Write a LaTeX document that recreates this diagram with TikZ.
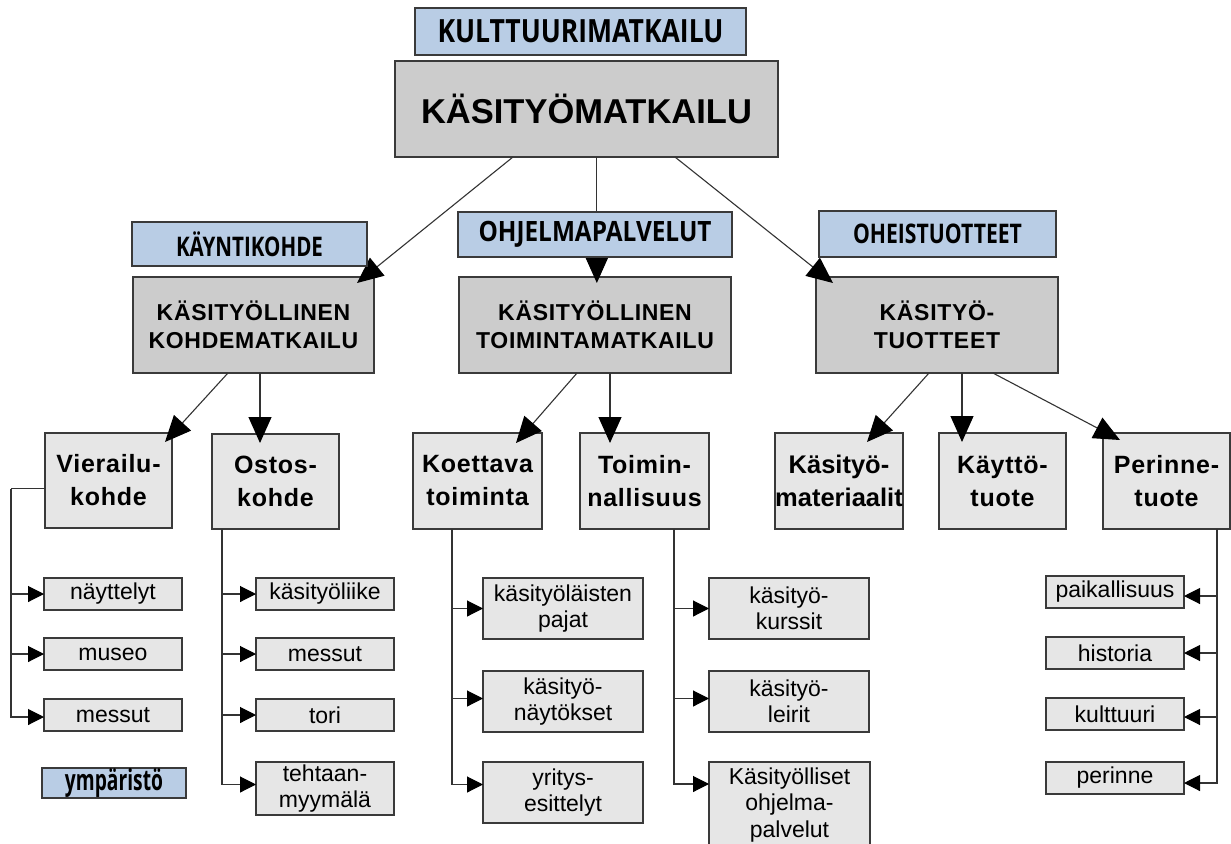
\documentclass[tikz,border=0pt]{standalone}
\usepackage{fontspec}
\usepackage{graphicx}
\setmainfont{Liberation Sans}
\newfontfamily\condfont{Open Sans}
\newfontfamily\spacedfont[LetterSpace=3]{Liberation Sans}
\usetikzlibrary{arrows.meta,calc}
\definecolor{bluebox}{HTML}{B9CDE5}
\definecolor{graydark}{HTML}{CCCCCC}
\definecolor{graylight}{HTML}{E6E6E6}
\definecolor{edgecol}{HTML}{3A3A3A}
\definecolor{linecol}{HTML}{333333}
\newcommand\condlbl[3]{\resizebox{#2}{\height}{\fontsize{#1}{#1}\selectfont\condfont\bfseries #3}}
\tikzset{
  every node/.style={inner sep=0pt, outer sep=0pt},
  bx/.style={draw=edgecol, line width=1.3pt, anchor=north west, align=center},
  lbl/.style={bx, fill=bluebox},
  lvone/.style={bx, fill=graydark, font=\fontsize{34.5pt}{40pt}\selectfont\bfseries},
  lvtwo/.style={bx, fill=graydark, font=\spacedfont\fontsize{23pt}{28pt}\selectfont\bfseries},
  lvthree/.style={bx, fill=graylight, font=\spacedfont\fontsize{25pt}{33pt}\selectfont\bfseries},
  lvthreetight/.style={bx, fill=graylight, font=\fontsize{25.5pt}{33pt}\selectfont\bfseries},
  lvfour/.style={bx, fill=graylight, font=\fontsize{23pt}{26.5pt}\selectfont},
  con/.style={draw=linecol, line width=1.1pt},
  bigarr/.style={con, -{Triangle[length=26pt,width=23pt,fill=black,color=black]}},
  smallarr/.style={con, -{Triangle[length=16pt,width=16pt,fill=black,color=black]}}
}
\begin{document}
\begin{tikzpicture}[x=1pt,y=-1pt]
\clip (0,0) rectangle (1231,843);
\fill[white] (0,0) rectangle (1231,843);

% top
\node[lbl, minimum width=331pt, minimum height=47pt] (kult) at (415,8) {\condlbl{32pt}{286pt}{KULTTUURIMATKAILU}};
\node[lvone, minimum width=383pt, minimum height=96pt] (top) at (395,61) {KÄSITYÖMATKAILU};

% level 2
\node[lvtwo, minimum width=241pt, minimum height=96pt] (k1) at (133,277) {KÄSITYÖLLINEN\\KOHDEMATKAILU};
\node[lvtwo, minimum width=272pt, minimum height=96pt] (k2) at (459,277) {KÄSITYÖLLINEN\\TOIMINTAMATKAILU};
\node[lvtwo, minimum width=242pt, minimum height=96pt] (k3) at (816,277) {KÄSITYÖ-\\TUOTTEET};

% level 3
\node[lvthree, minimum width=127pt, minimum height=95pt] (v) at (45,433) {Vierailu-\\kohde};
\node[lvthree, minimum width=127pt, minimum height=95pt] (o) at (212,434) {Ostos-\\kohde};
\node[lvthree, minimum width=129pt, minimum height=96pt] (ko) at (413,433) {Koettava\\toiminta};
\node[lvthree, minimum width=129pt, minimum height=96pt] (to) at (580,433) {Toimin-\\nallisuus};
\node[lvthreetight, minimum width=128pt, minimum height=96pt] (ma) at (775,433) {Käsityö-\\materiaalit};
\node[lvthree, minimum width=127pt, minimum height=96pt] (ky) at (939,433) {Käyttö-\\tuote};
\node[lvthree, minimum width=127pt, minimum height=96pt] (pe) at (1103,433) {Perinne-\\tuote};

% level 4
\node[lvfour, minimum width=138pt, minimum height=32pt] (n1) at (44,578) {näyttelyt};
\node[lvfour, minimum width=138pt, minimum height=32pt] (n2) at (44,638) {museo};
\node[lvfour, minimum width=138pt, minimum height=32pt] (n3) at (44,699) {messut};
\node[lbl, minimum width=144pt, minimum height=30pt] (ymp) at (42,768) {\condlbl{29pt}{98pt}{ympäristö}};

\node[lvfour, minimum width=138pt, minimum height=32pt] (c1) at (256,578) {käsityöliike};
\node[lvfour, minimum width=138pt, minimum height=32pt] (c2) at (256,638) {messut};
\node[lvfour, minimum width=138pt, minimum height=32pt] (c3) at (256,699) {tori};
\node[lvfour, minimum width=138pt, minimum height=53pt] (c4) at (256,762) {tehtaan-\\myymälä};

\node[lvfour, minimum width=160pt, minimum height=61pt] (e1) at (483,578) {käsityöläisten\\pajat};
\node[lvfour, minimum width=160pt, minimum height=61pt] (e2) at (483,671) {käsityö-\\näytökset};
\node[lvfour, minimum width=160pt, minimum height=61pt] (e3) at (483,762) {yritys-\\esittelyt};

\node[lvfour, minimum width=160pt, minimum height=61pt] (t1) at (709,578) {käsityö-\\kurssit};
\node[lvfour, minimum width=160pt, minimum height=61pt] (t2) at (709,671) {käsityö-\\leirit};
\node[lvfour, minimum width=161pt, minimum height=86pt] (t3) at (709,762) {Käsityölliset\\ohjelma-\\palvelut};

\node[lvfour, minimum width=138pt, minimum height=32pt] (p1) at (1046,576) {paikallisuus};
\node[lvfour, minimum width=138pt, minimum height=32pt] (p2) at (1046,637) {historia};
\node[lvfour, minimum width=138pt, minimum height=32pt] (p3) at (1046,698) {kulttuuri};
\node[lvfour, minimum width=138pt, minimum height=32pt] (p4) at (1046,762) {perinne};

% connectors from top
\coordinate (s1) at ($(top.south west)!0.308!(top.south east)$);
\coordinate (s2) at ($(top.south west)!0.527!(top.south east)$);
\coordinate (s3) at ($(top.south west)!0.731!(top.south east)$);
\draw[bigarr] (s1) -- ($(k1.north east)+(-17,6)$);
\draw[bigarr] (s2) -- ($(s2 |- k2.north)+(0,6)$);
\draw[bigarr] (s3) -- ($(k3.north west)+(17,6)$);

% labels over the connectors
\node[lbl, minimum width=235pt, minimum height=44pt] (kay) at (132,222) {\condlbl{27pt}{147pt}{KÄYNTIKOHDE}};
\node[lbl, minimum width=274pt, minimum height=45pt] (ohj) at (458,212) {\condlbl{28pt}{233pt}{OHJELMAPALVELUT}};
\node[lbl, minimum width=237pt, minimum height=46pt] (ohe) at (819,211) {\condlbl{27pt}{169pt}{OHEISTUOTTEET}};

% level 2 -> level 3
\draw[bigarr] ($(k1.south west)!0.394!(k1.south east)$) -- ($(v.north east)+(-7,9)$);
\coordinate (oa) at ($(o.north west)+(48,9)$);
\draw[bigarr] (oa |- k1.south) -- (oa);
\draw[bigarr] ($(k2.south west)!0.434!(k2.south east)$) -- ($(ko.north east)+(-26,10)$);
\coordinate (ta) at ($(to.north west)+(30,10)$);
\draw[bigarr] (ta |- k2.south) -- (ta);
\draw[bigarr] ($(k3.south west)!0.467!(k3.south east)$) -- ($(ma.north east)+(-36,9)$);
\coordinate (ya) at ($(ky.north west)+(23,9)$);
\draw[bigarr] (ya |- k3.south) -- (ya);
\draw[bigarr] ($(k3.south west)!0.731!(k3.south east)$) -- ($(pe.north west)+(17,7)$);

% level 3 -> level 4
\coordinate (vt) at ($(v.west)+(-34,8)$);
\draw[con] ($(v.west)+(0,8)$) -- (vt);
\draw[smallarr] (vt) |- ($(n3.west)+(0,2)$);
\draw[smallarr] (vt |- n1.west) -- (n1.west);
\draw[smallarr] (vt |- n2.west) -- (n2.west);

\coordinate (ot) at ($(o.south west)+(10,0)$);
\draw[smallarr] (ot) |- ($(c4.west)+(0,-4)$);
\draw[smallarr] (ot |- c1.west) -- (c1.west);
\draw[smallarr] (ot |- c2.west) -- (c2.west);
\draw[smallarr] (ot |- c3.west) -- (c3.west);

\coordinate (kt) at ($(ko.south west)+(39,0)$);
\draw[smallarr] (kt) |- ($(e3.west)+(0,-8)$);
\draw[smallarr] (kt |- e1.west) -- (e1.west);
\draw[smallarr] ($(kt |- e2.west)+(0,-3)$) -- ($(e2.west)+(0,-3)$);

\coordinate (tt) at ($(to.south west)+(94,0)$);
\draw[smallarr] (tt) |- ($(t3.north west)+(0,22)$);
\draw[smallarr] (tt |- t1.west) -- (t1.west);
\draw[smallarr] ($(tt |- t2.west)+(0,-3)$) -- ($(t2.west)+(0,-3)$);

\coordinate (pt) at ($(pe.south east)+(-13,0)$);
\draw[smallarr] (pt) |- ($(p4.east)+(0,5)$);
\draw[smallarr] ($(pt |- p1.east)+(0,4)$) -- ($(p1.east)+(0,4)$);
\draw[smallarr] (pt |- p2.east) -- (p2.east);
\draw[smallarr] ($(pt |- p3.east)+(0,3)$) -- ($(p3.east)+(0,3)$);
\end{tikzpicture}
\end{document}
